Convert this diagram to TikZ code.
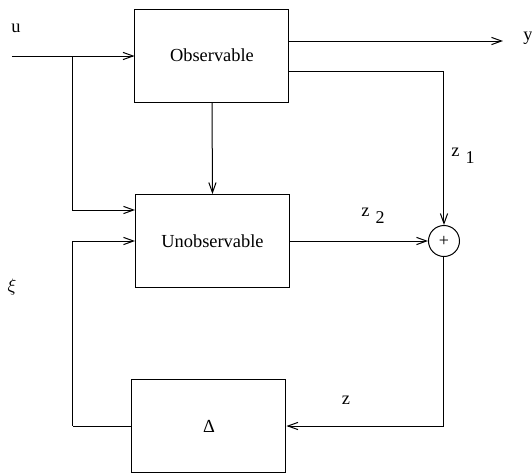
\documentclass[tikz,border=0pt]{standalone}
\usepackage{fontspec}
\setmainfont{Liberation Serif}
\usetikzlibrary{arrows.meta,positioning}
\tikzset{
    block/.style={
        rectangle, draw=black, line width=0.5pt,
        minimum width=77pt, minimum height=46.5pt,
        inner sep=0pt, text centered
    },
    sumnode/.style={
        circle, draw=black, line width=0.5pt,
        minimum size=15.5pt, inner sep=0pt, font=\small
    },
    descr/.style={
        inner sep=0pt
    },
    connector/.style={
        line width=0.5pt,
        -{Straight Barb[length=5pt,width=3.6pt]}
    },
    plain connector/.style={
        line width=0.5pt
    }
}
\newcommand{\subl}[2]{#1\hspace{3pt}\raisebox{-3.5pt}{\small #2}}
\begin{document}
\begin{tikzpicture}[x=0.5pt,y=-0.5pt,font=\fontsize{9.2}{11}\selectfont]
    \useasboundingbox (0,0) rectangle (532,473);
    % blocks
    \node[block] (obs)   at (212,55.5) {Observable};
    \node[block] (unobs) at (212.5,241) {Unobservable};
    \node[block] (delta) at (209,426) {Δ};
    \node[sumnode] (sum) at (444,241) {+};
    % free ends
    \coordinate (uin)  at (12,56);
    \coordinate (br)   at (73,56);
    \coordinate (yout) at (503,41);
    \coordinate (fb)   at (73,426);
    % labels
    \node[descr] (ulab)  at (16,28)   {u};
    \node[descr] (ylab)  at (528,38)  {y};
    \node[descr] (zonel) at (463,156) {\subl{z}{1}};
    \node[descr] (ztwol) at (373,216) {\subl{z}{2}};
    \node[descr] (zlab)  at (346,400) {z};
    \node[descr] (xilab) at (12,287)  {$\xi$};
    % connectors
    \draw [connector] (uin) -- (uin -| obs.west);
    \draw [connector] (br) |- ([yshift=15.5pt]unobs.west);
    \draw [connector] (obs.south) -- (unobs.north);
    \draw [connector] ([yshift=7.25pt]obs.east) -- (yout);
    \draw [connector] ([yshift=-7.75pt]obs.east) -| (sum.north);
    \draw [connector] (unobs.east) -- (sum.west);
    \draw [connector] (sum.south) |- (delta.east);
    \draw [plain connector] (delta.west) -- (fb);
    \draw [connector] (fb) |- (unobs.west);
\end{tikzpicture}
\end{document}
